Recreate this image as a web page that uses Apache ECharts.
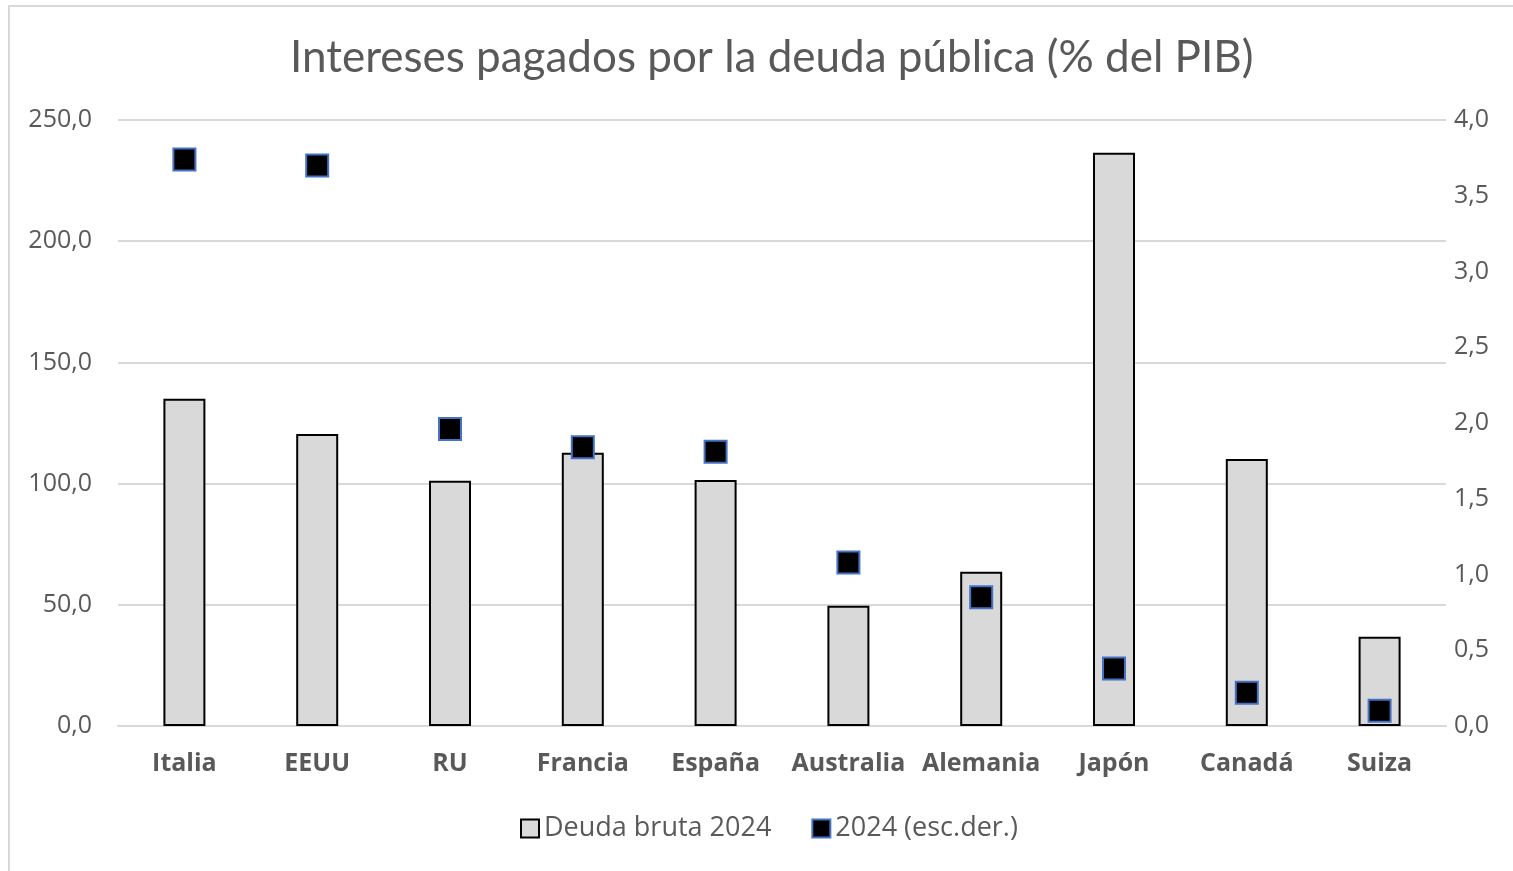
<!DOCTYPE html>
<html>
<head>
<meta charset="utf-8">
<script src="https://cdn.jsdelivr.net/npm/echarts@6/dist/echarts.min.js"></script>
<style>
  html, body { margin: 0; padding: 0; background: #fff; }
  #frame { position: absolute; left: 8px; top: 5px; width: 1530px; height: 900px; border: 2px solid #d9d9d9; box-sizing: border-box; }
  #chart { position: absolute; left: 0; top: 0; width: 1513px; height: 871px; }
</style>
</head>
<body>
<div id="frame"></div>
<div id="chart"></div>
<script>
// países
const paises = ['Italia', 'EEUU', 'RU', 'Francia', 'España', 'Australia', 'Alemania', 'Japón', 'Canadá', 'Suiza'];
// deuda bruta 2024 (% PIB, eje izq.)
const deudaBruta = [135.0, 120.5, 101.2, 112.7, 101.5, 49.6, 63.6, 236.5, 110.2, 36.8];
// intereses 2024 (% PIB, eje der.)
const intereses = [3.74, 3.70, 1.96, 1.84, 1.81, 1.08, 0.85, 0.38, 0.22, 0.10];

const fmt = v => v.toFixed(1).replace('.', ',');
const gris = '#595959';

const chart = echarts.init(document.getElementById('chart'));

chart.setOption({
  animation: false,
  title: {
    text: 'Intereses pagados por la deuda pública (% del PIB)',
    left: 285,
    top: 31,
    textStyle: { fontFamily: 'Lato', fontSize: 44, fontWeight: 'normal', color: gris }
  },
  legend: {
    bottom: 24,
    left: 515,
    itemWidth: 18,
    itemHeight: 18,
    itemGap: 40,
    textStyle: { fontFamily: 'Open Sans', fontSize: 27, color: gris },
    data: [
      { name: 'Deuda bruta 2024', icon: 'rect' },
      { name: '2024 (esc.der.)', icon: 'rect' }
    ]
  },
  grid: { left: 118, right: 67, top: 120, bottom: 145 },
  xAxis: {
    type: 'category',
    data: paises,
    axisLine: { lineStyle: { color: '#d9d9d9', width: 2 } },
    axisTick: { show: false },
    axisLabel: { fontFamily: 'Open Sans', fontSize: 25, fontWeight: 'bold', color: gris, margin: 25, interval: 0 }
  },
  yAxis: [
    {
      type: 'value',
      min: 0, max: 250, interval: 50,
      axisLine: { show: false },
      axisTick: { show: false },
      splitLine: { lineStyle: { color: '#d9d9d9', width: 2 } },
      axisLabel: { fontFamily: 'Open Sans', fontSize: 25, color: gris, margin: 26, formatter: fmt }
    },
    {
      type: 'value',
      min: 0, max: 4, interval: 0.5,
      axisLine: { show: false },
      axisTick: { show: false },
      splitLine: { show: false },
      axisLabel: { fontFamily: 'Open Sans', fontSize: 25, color: gris, margin: 8, formatter: fmt }
    }
  ],
  series: [
    {
      name: 'Deuda bruta 2024',
      type: 'bar',
      data: deudaBruta,
      barWidth: 42,
      itemStyle: { color: '#d9d9d9', borderColor: '#000', borderWidth: 2 }
    },
    {
      name: '2024 (esc.der.)',
      type: 'scatter',
      yAxisIndex: 1,
      data: intereses,
      symbol: 'rect',
      symbolSize: 22,
      itemStyle: { color: '#000', borderColor: '#4472c4', borderWidth: 2, opacity: 1 }
    }
  ]
});
</script>
</body>
</html>
